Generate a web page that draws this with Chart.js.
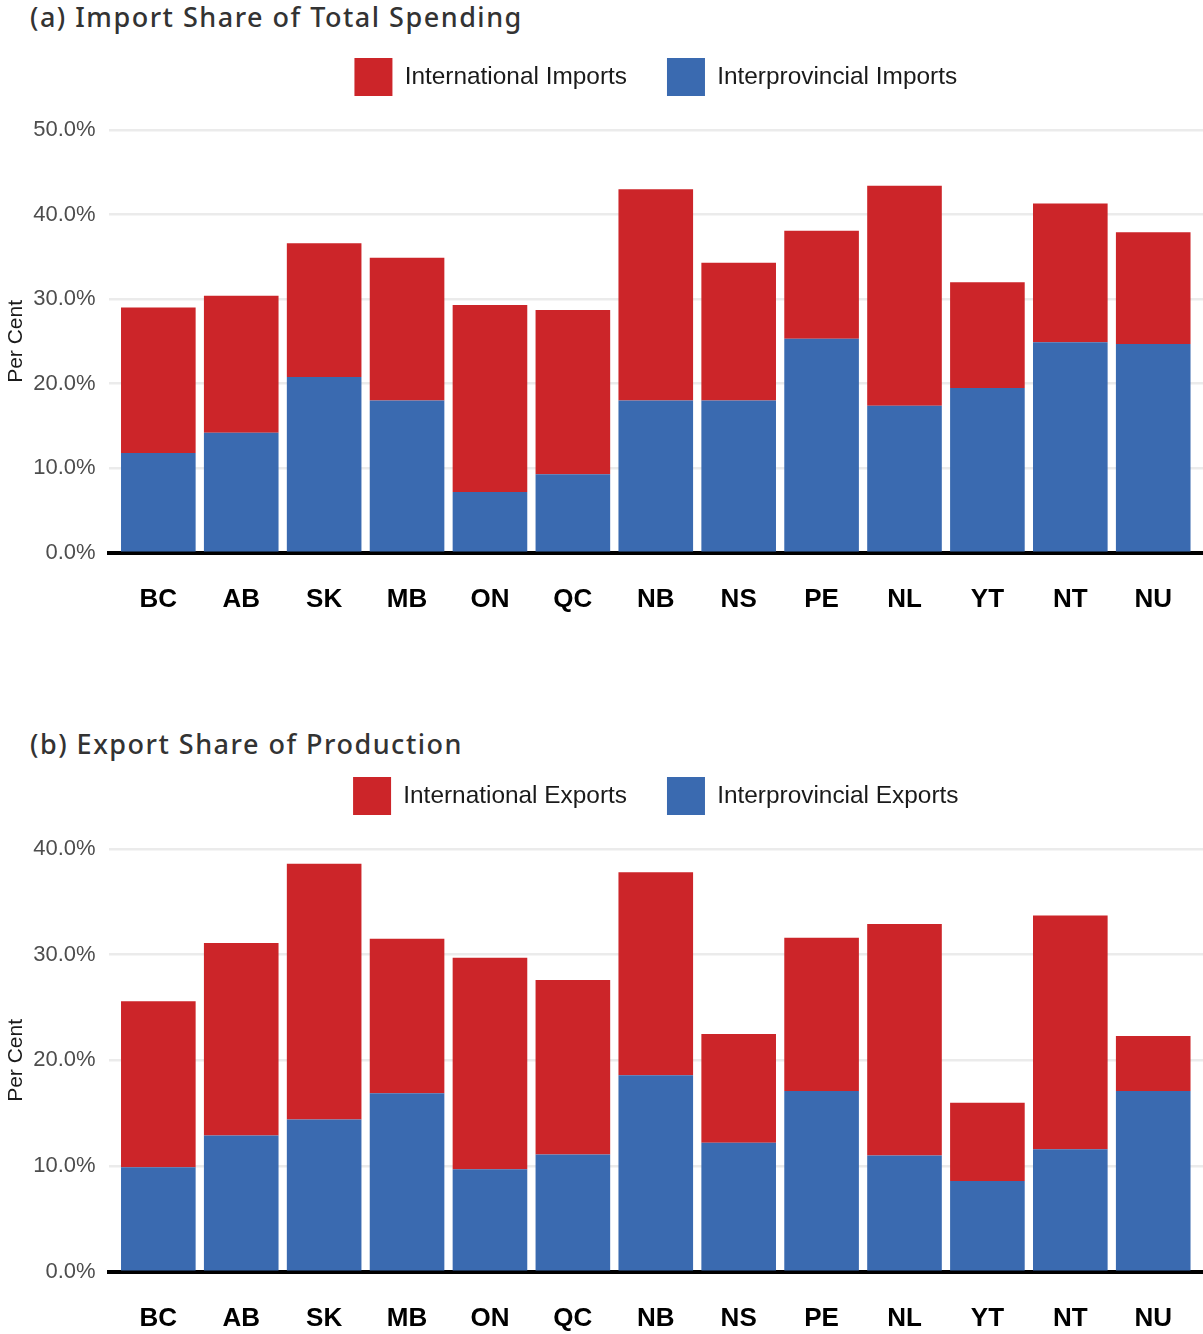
<!DOCTYPE html>
<html>
<head>
<meta charset="utf-8">
<script src="https://cdn.jsdelivr.net/npm/chart.js@4.4.1/dist/chart.umd.min.js"></script>
<style>
  body { margin: 0; background: #fff; }
  #page { position: relative; width: 1203px; height: 1334px; overflow: hidden; }
  .title { position: absolute; left: 30px; font-family: "Noto Sans", sans-serif; font-weight: 500;
           font-size: 27px; letter-spacing: 1.5px; color: #333; white-space: nowrap; line-height: 1; }
  .box { position: absolute; left: 0; width: 1203px; height: 636px; }
</style>
</head>
<body>
<div id="page">
  <div class="title" style="top:3px">(a) Import Share of Total Spending</div>
  <div class="box" style="top:10px"><canvas id="imports"></canvas></div>
  <div class="title" style="top:730px">(b) Export Share of Production</div>
  <div class="box" style="top:729px"><canvas id="exports"></canvas></div>
</div>
<script>
// provinces / territories
const provinces = ['BC', 'AB', 'SK', 'MB', 'ON', 'QC', 'NB', 'NS', 'PE', 'NL', 'YT', 'NT', 'NU'];

// (a) imports, % of total spending (stacked segments)
const interprovImports = [11.8, 14.2, 20.8, 18.0, 7.2, 9.3, 18.0, 18.0, 25.3, 17.4, 19.5, 24.9, 24.7];
const internationalImports = [17.2, 16.2, 15.8, 16.9, 22.1, 19.4, 25.0, 16.3, 12.8, 26.0, 12.5, 16.4, 13.2];

// (b) exports, % of production (stacked segments)
const interprovExports = [9.9, 12.9, 14.4, 16.9, 9.7, 11.1, 18.6, 12.2, 17.1, 11.0, 8.6, 11.6, 17.1];
const internationalExports = [15.7, 18.2, 24.2, 14.6, 20.0, 16.5, 19.2, 10.3, 14.5, 21.9, 7.4, 22.1, 5.2];

// y-axis ticks
const importTicks = [0, 10, 20, 30, 40, 50];
const exportTicks = [0, 10, 20, 30, 40];

const RED = '#CC2529';
const BLUE = '#3A6AB0';
const SANS = '"Liberation Sans", Arial, Helvetica, sans-serif';

// leave a wider gap between the legend and the plot, like the original
const legendGap = {
  id: 'legendGap',
  beforeUpdate(chart) {
    const lg = chart.legend;
    if (lg && !lg._gapPatched) {
      const fit = lg.fit;
      lg.fit = function () { fit.call(this); this.height += 24; };
      lg._gapPatched = true;
    }
  }
};

function makeChart(id, blueVals, redVals, blueName, redName, yTicks) {
  const toPoints = arr => arr.map((v, i) => ({ x: i, y: v }));
  return new Chart(document.getElementById(id), {
    type: 'bar',
    data: {
      datasets: [
        { label: blueName, data: toPoints(blueVals), backgroundColor: BLUE, stack: 's',
          barPercentage: 0.9, categoryPercentage: 1 },
        { label: redName, data: toPoints(redVals), backgroundColor: RED, stack: 's',
          barPercentage: 0.9, categoryPercentage: 1 }
      ]
    },
    plugins: [legendGap],
    options: {
      responsive: true,
      maintainAspectRatio: false,
      animation: false,
      devicePixelRatio: 1,
      layout: { padding: { left: 4, top: 8, right: -3, bottom: 0 } },
      plugins: {
        tooltip: { enabled: false },
        legend: {
          position: 'top',
          fullSize: false,
          reverse: true,
          labels: {
            boxWidth: 38, boxHeight: 38, padding: 40,
            color: '#1a1a1a', font: { family: SANS, size: 24.4 }
          }
        }
      },
      scales: {
        x: {
          type: 'linear',
          stacked: true,
          offset: false,
          min: -0.6,
          max: provinces.length - 0.4,
          z: 1,
          afterBuildTicks: s => { s.ticks = provinces.map((_, i) => ({ value: i })); },
          grid: { display: false, drawTicks: false },
          border: { display: true, color: '#000', width: 4 },
          ticks: {
            autoSkip: false, maxRotation: 0, padding: 31,
            color: '#000', font: { family: SANS, size: 26, weight: 'bold' },
            callback: v => provinces[v]
          }
        },
        y: {
          stacked: true,
          min: 0,
          max: yTicks[yTicks.length - 1],
          afterBuildTicks: s => { s.ticks = yTicks.map(v => ({ value: v })); },
          grid: { color: '#ebebeb', lineWidth: 2.5, drawTicks: false },
          border: { display: false },
          ticks: {
            padding: 13, color: '#4d4d4d', font: { family: SANS, size: 22 },
            callback: v => v.toFixed(1) + '%'
          },
          title: {
            display: true, text: 'Per Cent', color: '#1a1a1a',
            font: { family: SANS, size: 21 }, padding: { top: 0, bottom: -9 }
          }
        }
      }
    }
  });
}

makeChart('imports', interprovImports, internationalImports,
  'Interprovincial Imports', 'International Imports', importTicks);
makeChart('exports', interprovExports, internationalExports,
  'Interprovincial Exports', 'International Exports', exportTicks);
</script>
</body>
</html>
